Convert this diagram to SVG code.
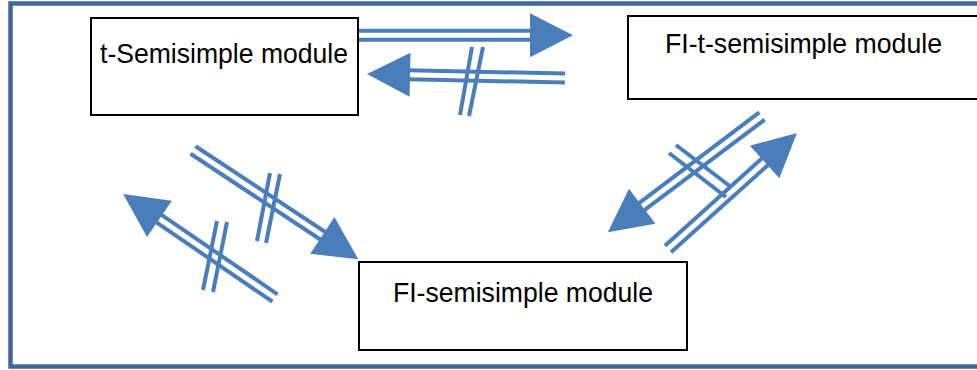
<svg xmlns="http://www.w3.org/2000/svg" width="977" height="370" viewBox="0 0 977 370">
<defs>
<style>
.frame{fill:none;stroke:#41669C;stroke-width:4.5}
.box{fill:#fff;stroke:#000;stroke-width:2}
.lbl{font-family:"Liberation Sans",Arial,sans-serif;font-size:28px;fill:#000}
.ln{stroke:#4A7EBB;stroke-width:4;fill:none}
.hd{fill:#4A7EBB}
</style>
</defs>
<rect class="frame" x="10.5" y="3.5" width="990" height="363"/>
<g id="node-t-semisimple">
<rect class="box" x="91" y="18" width="267" height="97"/>
<text class="lbl" x="100" y="63" textLength="248" lengthAdjust="spacingAndGlyphs">t-Semisimple module</text>
</g>
<g id="node-fi-t-semisimple">
<rect class="box" x="628" y="16" width="370" height="83"/>
<text class="lbl" x="665" y="53" textLength="277" lengthAdjust="spacingAndGlyphs">FI-t-semisimple module</text>
</g>
<g id="node-fi-semisimple">
<rect class="box" x="359" y="262" width="328" height="88"/>
<text class="lbl" x="393" y="302" textLength="260" lengthAdjust="spacingAndGlyphs">FI-semisimple module</text>
</g>
<g id="connectors">
<g transform="translate(359,35.3)">
<line class="ln" x1="0" y1="-4.5" x2="172" y2="-4.5"/>
<line class="ln" x1="0" y1="4.5" x2="172" y2="4.5"/>
<polygon class="hd" points="171,-22 214,0 171,22"/>
</g>
<g transform="translate(565,78) rotate(181.16)">
<line class="ln" x1="0" y1="-4.5" x2="156" y2="-4.5"/>
<line class="ln" x1="0" y1="4.5" x2="156" y2="4.5"/>
<polygon class="hd" points="155,-22 198,0 155,22"/>
</g>
<line class="ln" x1="472" y1="47" x2="460" y2="115"/>
<line class="ln" x1="483" y1="47" x2="469" y2="116"/>
<g transform="translate(762,116) rotate(143)">
<line class="ln" x1="0" y1="-4.5" x2="151" y2="-4.5"/>
<line class="ln" x1="0" y1="4.5" x2="151" y2="4.5"/>
<polygon class="hd" points="150,-22 193,0 150,22"/>
</g>
<line class="ln" x1="676" y1="145" x2="731" y2="187"/>
<line class="ln" x1="669" y1="153" x2="726" y2="197"/>
<g transform="translate(668,249) rotate(-42)">
<line class="ln" x1="0" y1="-4.5" x2="131" y2="-4.5"/>
<line class="ln" x1="0" y1="4.5" x2="131" y2="4.5"/>
<polygon class="hd" points="130,-22 173.5,0 130,22"/>
</g>
<g transform="translate(193,150) rotate(33.45)">
<line class="ln" x1="0" y1="-4.5" x2="156" y2="-4.5"/>
<line class="ln" x1="0" y1="4.5" x2="156" y2="4.5"/>
<polygon class="hd" points="155,-22 198,0 155,22"/>
</g>
<line class="ln" x1="270" y1="173" x2="257" y2="241"/>
<line class="ln" x1="280" y1="174" x2="266" y2="243"/>
<g transform="translate(275,298) rotate(214.38)">
<line class="ln" x1="0" y1="-4.5" x2="141" y2="-4.5"/>
<line class="ln" x1="0" y1="4.5" x2="141" y2="4.5"/>
<polygon class="hd" points="140,-22 184,0 140,22"/>
</g>
<line class="ln" x1="217" y1="221" x2="203" y2="290"/>
<line class="ln" x1="227" y1="222" x2="213" y2="292"/>
</g>
</svg>
